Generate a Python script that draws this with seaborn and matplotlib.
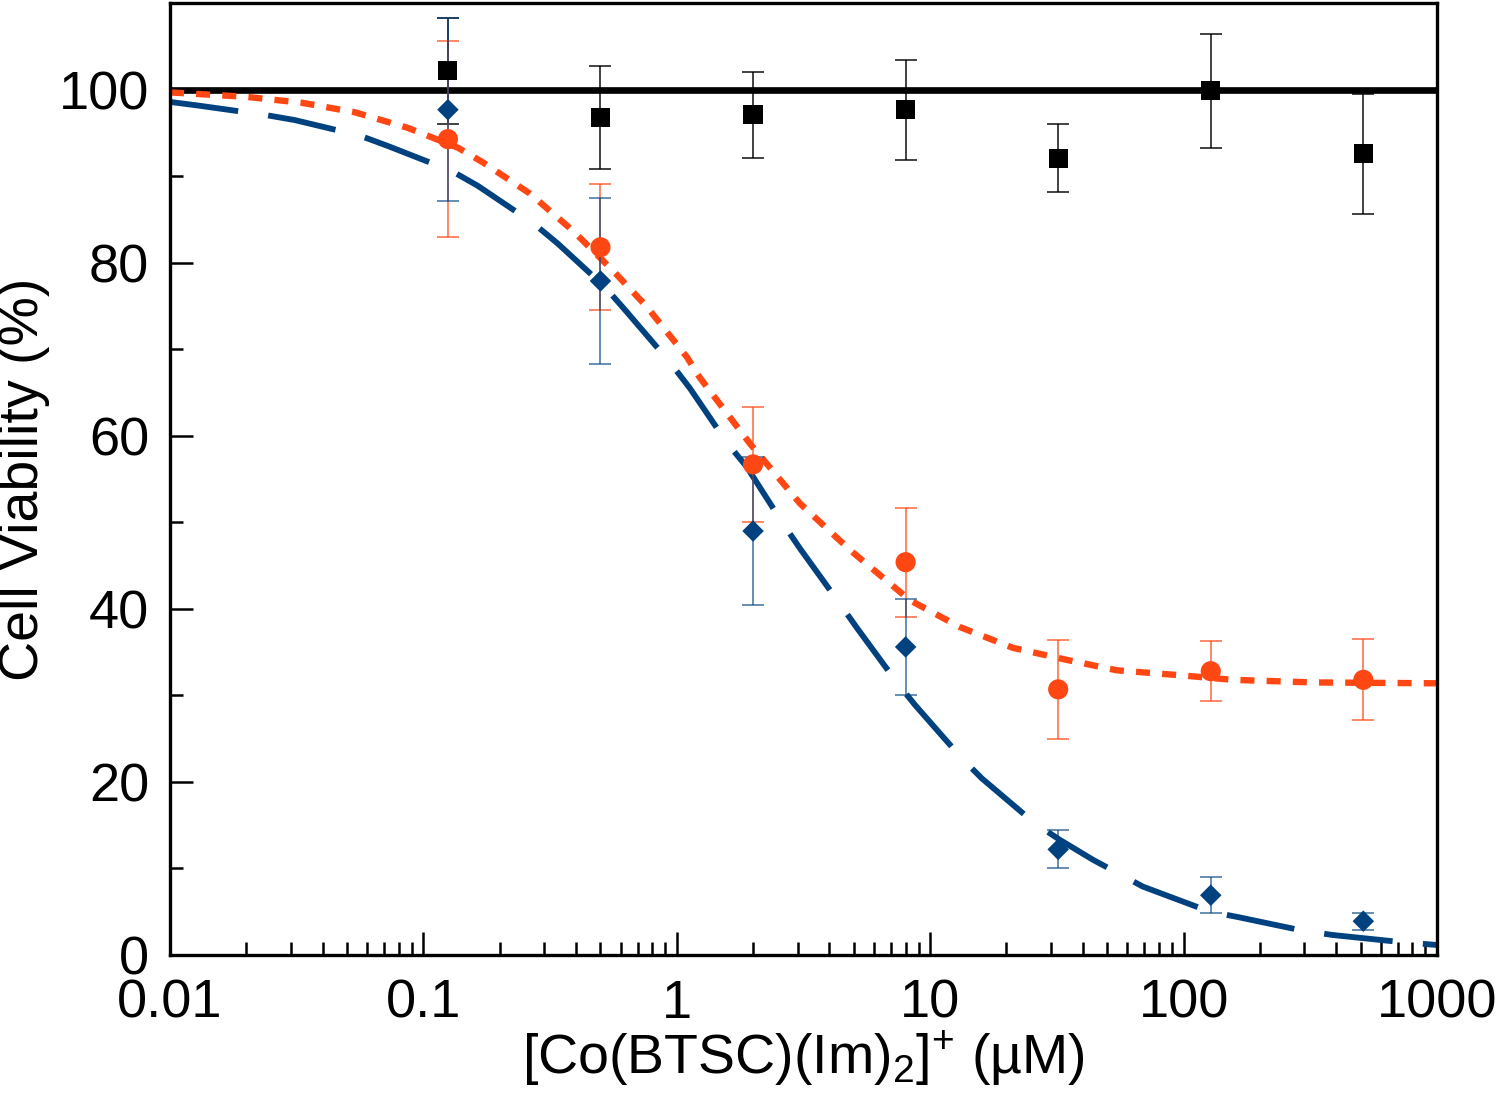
import numpy as np
import pandas as pd
import matplotlib
matplotlib.use('Agg')
import matplotlib.pyplot as plt
import seaborn as sns
from matplotlib.ticker import FixedLocator, LogLocator, MultipleLocator, FuncFormatter

# concentrations (uM)
conc = [0.125, 0.5, 2, 8, 32, 128, 512]

# control (black squares)
ctrl = [102.2, 96.8, 97.1, 97.7, 92.1, 99.9, 92.6]
ctrl_err = [6.1, 5.9, 5.0, 5.8, 3.9, 6.6, 6.9]

# orange circles
orange = [94.3, 81.8, 56.7, 45.4, 30.7, 32.8, 31.8]
orange_err = [11.3, 7.3, 6.6, 6.3, 5.7, 3.5, 4.7]

# blue diamonds
blue = [97.7, 77.9, 49.0, 35.6, 12.2, 6.9, 3.9]
blue_err = [10.6, 9.6, 8.5, 5.6, 2.2, 2.1, 1.0]

# fitted curves
orange_fit_x = [0.01, 0.0198, 0.0332, 0.0537, 0.0869, 0.137, 0.172, 0.2634, 0.3895, 0.56,
                0.763, 1.097, 1.235, 1.945, 3.06, 4.83, 8.32, 13.1, 21.2, 34.7,
                54.6, 99.4, 156.6, 324, 1000]
orange_fit_y = [99.7, 99.2, 98.5, 97.4, 95.6, 93.3, 91.6, 88.0, 83.7, 79.1,
                74.9, 69.1, 66.7, 59.1, 52.2, 46.8, 41.0, 37.9, 35.5, 34.1,
                32.9, 32.3, 31.8, 31.5, 31.4]

blue_fit_x = [0.01, 0.01278, 0.0237, 0.0311, 0.0562, 0.0725, 0.1297, 0.164, 0.271, 0.34,
              0.521, 0.636, 0.94, 1.127, 1.578, 1.89, 2.62, 3.06, 4.4, 5.14,
              7.39, 8.71, 13.36, 16.0, 25.9, 32.5, 43.9, 69.1, 127, 162.5,
              296, 389, 714, 1000]
blue_fit_y = [98.6, 98.2, 97.1, 96.5, 94.7, 93.5, 90.6, 88.9, 84.6, 82.2,
              77.2, 74.3, 68.5, 65.5, 59.2, 56.4, 49.9, 47.0, 40.6, 37.8,
              31.5, 28.9, 22.7, 20.4, 15.2, 13.3, 11.0, 7.9, 5.0, 4.4,
              2.8, 2.3, 1.5, 1.15]

ORANGE = '#ff4713'
BLUE = '#00427f'

sns.set_style('white')
plt.rcParams['font.family'] = ['Liberation Sans', 'DejaVu Sans']
plt.rcParams['mathtext.fontset'] = 'custom'
plt.rcParams['mathtext.rm'] = 'Liberation Sans'
plt.rcParams['text.color'] = 'black'
plt.rcParams['axes.labelcolor'] = 'black'
plt.rcParams['xtick.color'] = 'black'
plt.rcParams['ytick.color'] = 'black'

fig = plt.figure(figsize=(15, 10.96), dpi=100)
ax = fig.add_axes([0.1133, 0.1287, 0.8447, 0.8683])

# fit lines
ax.axhline(100, color='black', lw=4.8, zorder=2)
sns.lineplot(x=orange_fit_x, y=orange_fit_y, ax=ax, color=ORANGE, lw=4.6, sort=False, zorder=2)
ax.lines[-1].set_dashes([2.2, 1.9])
sns.lineplot(x=blue_fit_x, y=blue_fit_y, ax=ax, color=BLUE, lw=4.2, sort=False, zorder=2)
ax.lines[-1].set_dashes([11.8, 5.2])

# error bars
ax.errorbar(conc, ctrl, yerr=ctrl_err, fmt='none', ecolor='black', alpha=0.8, elinewidth=1.3,
            capsize=8, capthick=1.3, zorder=3)
ax.errorbar(conc, orange, yerr=orange_err, fmt='none', ecolor=ORANGE, alpha=0.65, elinewidth=1.4,
            capsize=8, capthick=1.4, zorder=3)
ax.errorbar(conc, blue, yerr=blue_err, fmt='none', ecolor=BLUE, alpha=0.6, elinewidth=1.4,
            capsize=8, capthick=1.4, zorder=3)

# markers
sns.scatterplot(x=conc, y=ctrl, ax=ax, marker='s', s=190, color='black', edgecolor='none', zorder=4)
sns.scatterplot(x=conc, y=orange, ax=ax, marker='o', s=210, color=ORANGE, edgecolor='none', zorder=4)
sns.scatterplot(x=conc, y=blue, ax=ax, marker='D', s=120, color=BLUE, edgecolor='none', zorder=4)

ax.set_xscale('log')
ax.set_xlim(0.01, 1000)
ax.set_ylim(0, 110)

ax.xaxis.set_major_locator(FixedLocator([0.01, 0.1, 1, 10, 100, 1000]))
ax.xaxis.set_major_formatter(FuncFormatter(lambda v, p: '%g' % v))
ax.xaxis.set_minor_locator(LogLocator(base=10, subs=np.arange(2, 10), numticks=20))
ax.yaxis.set_major_locator(FixedLocator([0, 20, 40, 60, 80, 100]))
ax.yaxis.set_minor_locator(MultipleLocator(10))

ax.tick_params(which='both', direction='in', bottom=True, left=True, top=False, right=False,
               width=1.8, color='black', labelsize=39)
ax.tick_params(which='major', length=16.5)
ax.tick_params(which='minor', length=9.4)
ax.tick_params(axis='x', which='major', pad=17)
ax.tick_params(axis='y', which='major', pad=15)

for sp in ax.spines.values():
    sp.set_visible(True)
    sp.set_color('black')
    sp.set_linewidth(2.4)

ax.set_ylabel('Cell Viability (%)', fontsize=40, labelpad=6)
ax.set_xlabel('[Co(BTSC)(Im)$_\\mathregular{2}$]$^\\mathregular{+}$ (\u00b5M)', fontsize=40, labelpad=0)
ax.grid(False)

fig.savefig('out.png', dpi=100)
